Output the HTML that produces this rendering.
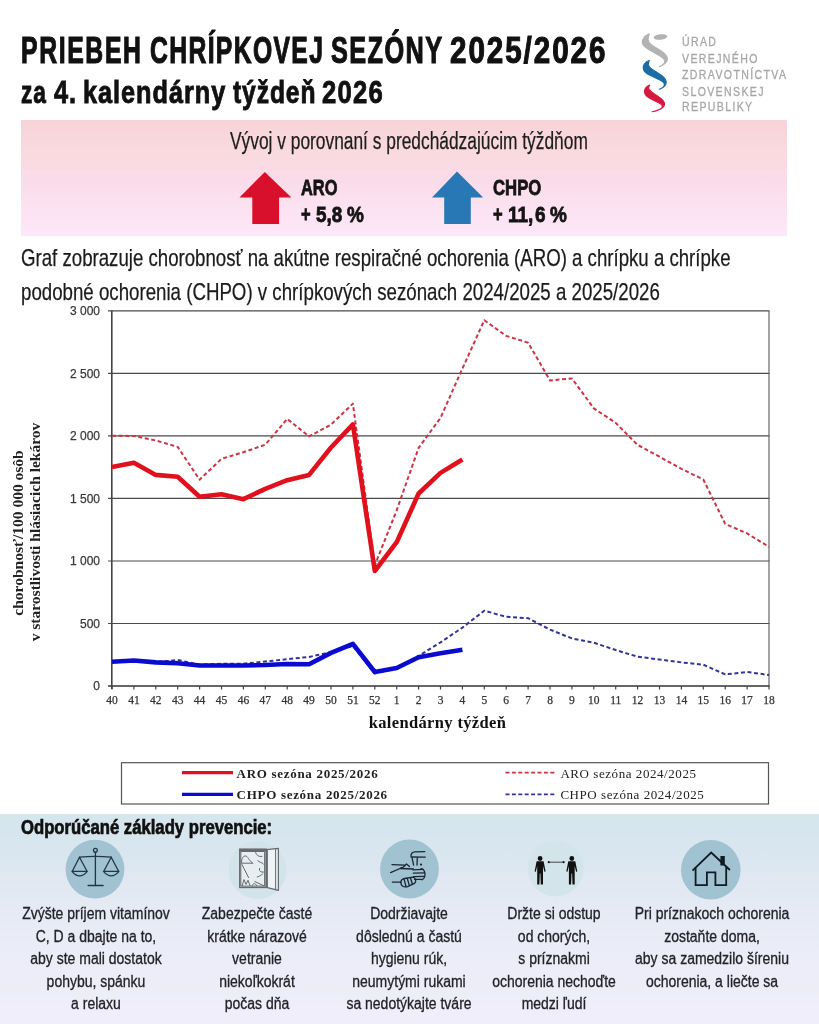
<!DOCTYPE html>
<html lang="sk">
<head>
<meta charset="utf-8">
<title>Priebeh chrípkovej sezóny 2025/2026</title>
<style>
html,body{margin:0;padding:0}
body{width:819px;height:1024px;position:relative;overflow:hidden;background:#fff;font-family:"Liberation Sans",Arial,sans-serif;color:#161616}
.t{position:absolute;white-space:nowrap;transform-origin:0 0;margin:0}
.c{position:absolute;white-space:nowrap;transform-origin:50% 0;text-align:center;margin:0}
.tw{top:32.9px;font-size:36.2px;line-height:36.2px;font-weight:bold;color:#111;-webkit-text-stroke:1.1px #111}
.sw{top:77.1px;font-size:31.5px;line-height:31.5px;font-weight:bold;color:#111;-webkit-text-stroke:0.9px #111}
.logo{position:absolute;left:681.5px;font-size:12.8px;line-height:12px;letter-spacing:1.65px;color:#a6a6a6;white-space:nowrap;transform:scaleX(0.825);transform-origin:0 0;-webkit-text-stroke:0.3px #a6a6a6}
#pink{position:absolute;left:20.5px;top:120px;width:766px;height:115.5px;background:linear-gradient(#f7d3d9 0%,#f9dadf 28%,#fadbe8 50%,#fce2f1 75%,#fde7f9 100%)}
#vyv{left:229.5px;top:130.2px;font-size:23px;line-height:23px;transform:scaleX(0.7545);color:#1d1d1d;-webkit-text-stroke:0.25px #1d1d1d}
.big{font-size:22px;line-height:22px;font-weight:bold;color:#141414;-webkit-text-stroke:0.8px #141414}
.par{font-size:23.8px;line-height:23.8px;color:#1b1b1b;-webkit-text-stroke:0.25px #1b1b1b}
#chart{position:absolute;left:0;top:0}
.yl{font-family:"Liberation Sans",Arial,sans-serif;font-size:12px;fill:#3a3a3a;text-anchor:end;stroke:#3a3a3a;stroke-width:0.25px}
.xl{font-family:"Liberation Serif","Times New Roman",serif;font-size:11.5px;fill:#333;text-anchor:middle;stroke:#333;stroke-width:0.25px}
.xt{font-family:"Liberation Serif","Times New Roman",serif;font-size:16.5px;font-weight:bold;fill:#111;text-anchor:middle;letter-spacing:0.35px}
.yt{font-family:"Liberation Serif","Times New Roman",serif;font-size:15.5px;font-weight:bold;fill:#222;text-anchor:middle}
.lb{font-family:"Liberation Serif","Times New Roman",serif;font-size:13px;font-weight:bold;fill:#222;letter-spacing:0.7px}
.lr{font-family:"Liberation Serif","Times New Roman",serif;font-size:13px;fill:#222;letter-spacing:0.56px}
#bottom{position:absolute;left:0;top:814px;width:819px;height:210px;background:linear-gradient(#d5e6ed 0%,#d9e6ef 18%,#e1e8f2 32%,#e9ecf6 58%,#f0eefa 100%)}
#odp{left:20.67px;top:816.6px;font-size:20px;line-height:20px;font-weight:bold;transform:scaleX(0.8338);color:#111;-webkit-text-stroke:0.7px #111}
.col{position:absolute;top:903.2px;width:220px;margin-left:-110px;text-align:center;font-size:16px;line-height:22.5px;color:#222228;-webkit-text-stroke:0.3px #222228}
.col div{white-space:nowrap;transform:scaleX(0.874);transform-origin:50% 0}
</style>
</head>
<body>
<div class="t tw" style="left:21.43px;letter-spacing:2.4px;transform:scaleX(0.6842)">PRIEBEH</div>
<div class="t tw" style="left:150.12px;letter-spacing:2px;transform:scaleX(0.6828)">CHRÍPKOVEJ</div>
<div class="t tw" style="left:331.3px;letter-spacing:2px;transform:scaleX(0.6994)">SEZÓNY</div>
<div class="t tw" style="left:450.38px;letter-spacing:2.4px;transform:scaleX(0.8169)">2025/2026</div>
<div class="t sw" style="left:20.58px;letter-spacing:1.2px;transform:scaleX(0.7206)">za</div>
<div class="t sw" style="left:54.1px;letter-spacing:1.2px;transform:scaleX(0.8038)">4.</div>
<div class="t sw" style="left:83.49px;letter-spacing:1.2px;transform:scaleX(0.8029)">kalendárny</div>
<div class="t sw" style="left:233.2px;letter-spacing:1.2px;transform:scaleX(0.7798)">týždeň</div>
<div class="t sw" style="left:322.29px;letter-spacing:1.6px;transform:scaleX(0.8123)">2026</div>

<svg style="position:absolute;left:0;top:0" width="819" height="120" viewBox="0 0 819 120">
  <ellipse cx="660.5" cy="37" rx="6.9" ry="2.7" fill="#b3b3b3" transform="rotate(-6 660.5 37)"/>
  <path d="M649.2,33.9 C645.5,35.5 642.2,38.5 642.4,42.5 C642.6,46.5 648,49.5 654,52.5 C659.5,55.3 664.5,57.8 664.8,61 C665,63.5 662.5,65.5 659.4,66.6 C663.5,65 667.5,62 667.4,58.5 C667.2,54.5 661,50.5 655.5,47.5 C651,45 647.8,42.5 648,39.5 C648.1,37.5 648.5,35.5 649.2,33.9 Z" fill="#b3b3b3" stroke="#b3b3b3" stroke-width="1.3" stroke-linejoin="round"/>
  <path d="M649.2,60.6 C645.5,62 643,65 643.3,68.5 C643.6,72 647,74 651.5,76 C657,78.5 663,80.5 664.3,83.5 C665,86 662.5,88 659.4,89.2 C663.5,87.8 666.5,85 666.2,81.5 C665.8,77.5 660.5,74.5 656.5,72.1 C652,69.5 648.5,67 648.3,64.5 C648.2,63 648.6,61.7 649.2,60.6 Z" fill="#1c6ca7" stroke="#1c6ca7" stroke-width="1.2" stroke-linejoin="round"/>
  <path d="M649.7,85.1 C646,86.5 644.2,89.5 644.6,92.5 C645,96 648.5,98 653,100 C657.5,102 661.5,103.5 662.5,106 C663,108.5 657.5,111 652.1,111.7 C658,111 664.5,108 664.6,104 C664.7,100 659.5,97.5 655.5,94.7 C651.5,92 648.5,90 648.6,88 C648.7,86.7 649.1,85.8 649.7,85.1 Z" fill="#d8173f" stroke="#d8173f" stroke-width="1.1" stroke-linejoin="round"/>
</svg>
<div class="logo" style="top:35.8px">ÚRAD</div>
<div class="logo" style="top:52.5px">VEREJNÉHO</div>
<div class="logo" style="top:69.1px">ZDRAVOTNÍCTVA</div>
<div class="logo" style="top:85.7px">SLOVENSKEJ</div>
<div class="logo" style="top:101.4px">REPUBLIKY</div>

<div id="pink"></div>
<div class="t" id="vyv">Vývoj v porovnaní s predchádzajúcim týždňom</div>
<svg style="position:absolute;left:0;top:160px" width="819" height="70" viewBox="0 160 819 70">
  <polygon points="264.8,171.9 291.4,197.5 279.1,197.5 279.1,224.1 252.3,224.1 252.3,197.5 239.5,197.5" fill="#d8102b"/>
  <polygon points="457,171.4 483.2,197.5 470.8,197.5 470.8,224 444.2,224 444.2,197.5 432,197.5" fill="#2878b6"/>
</svg>
<div class="t big" id="aro" style="left:300.6px;top:177.2px;transform:scaleX(0.745)">ARO</div>
<div class="t big" id="ap1" style="left:300.6px;top:203.6px;transform:scaleX(0.75)">+</div>
<div class="t big" id="ap2" style="left:316px;top:203.6px;transform:scaleX(0.86)">5,8</div>
<div class="t big" id="ap3" style="left:347px;top:203.6px;transform:scaleX(0.86)">%</div>
<div class="t big" id="chpo" style="left:493px;top:177.2px;transform:scaleX(0.76)">CHPO</div>
<div class="t big" id="cp1" style="left:493px;top:203.6px;transform:scaleX(0.75)">+</div>
<div class="t big" id="cp2" style="left:507.5px;top:203.6px;transform:scaleX(0.86)">11,</div>
<div class="t big" id="cp2b" style="left:534.5px;top:203.6px;transform:scaleX(0.86)">6</div>
<div class="t big" id="cp3" style="left:549.7px;top:203.6px;transform:scaleX(0.86)">%</div>

<div class="t par" id="p1" style="top:246.45px;left:20.92px;transform:scaleX(0.7834)">Graf zobrazuje chorobnosť na akútne respiračné ochorenia (ARO) a chrípku a chrípke</div>
<div class="t par" id="p2" style="top:279.75px;left:21.21px;transform:scaleX(0.7852)">podobné ochorenia (CHPO) v chrípkových sezónach 2024/2025 a 2025/2026</div>

<svg id="chart" width="819" height="814" viewBox="0 0 819 814">
<line x1="108" y1="623.5" x2="769.5" y2="623.5" stroke="#4a4a4a" stroke-width="1.2"/>
<line x1="108" y1="561.0" x2="769.5" y2="561.0" stroke="#4a4a4a" stroke-width="1.2"/>
<line x1="108" y1="498.4" x2="769.5" y2="498.4" stroke="#4a4a4a" stroke-width="1.2"/>
<line x1="108" y1="435.9" x2="769.5" y2="435.9" stroke="#4a4a4a" stroke-width="1.2"/>
<line x1="108" y1="373.4" x2="769.5" y2="373.4" stroke="#4a4a4a" stroke-width="1.2"/>
<line x1="108" y1="310.9" x2="769.5" y2="310.9" stroke="#4a4a4a" stroke-width="1.2"/>
<line x1="769" y1="310.9" x2="769" y2="686.0" stroke="#666" stroke-width="1.2"/>
<line x1="108" y1="686.0" x2="769.5" y2="686.0" stroke="#333" stroke-width="1.6"/>
<line x1="111.8" y1="310.4" x2="111.8" y2="689.0" stroke="#444" stroke-width="1.6"/>
<line x1="112.0" y1="686.0" x2="112.0" y2="689.5" stroke="#444" stroke-width="1.2"/>
<line x1="133.9" y1="686.0" x2="133.9" y2="689.5" stroke="#444" stroke-width="1.2"/>
<line x1="155.8" y1="686.0" x2="155.8" y2="689.5" stroke="#444" stroke-width="1.2"/>
<line x1="177.7" y1="686.0" x2="177.7" y2="689.5" stroke="#444" stroke-width="1.2"/>
<line x1="199.6" y1="686.0" x2="199.6" y2="689.5" stroke="#444" stroke-width="1.2"/>
<line x1="221.5" y1="686.0" x2="221.5" y2="689.5" stroke="#444" stroke-width="1.2"/>
<line x1="243.4" y1="686.0" x2="243.4" y2="689.5" stroke="#444" stroke-width="1.2"/>
<line x1="265.3" y1="686.0" x2="265.3" y2="689.5" stroke="#444" stroke-width="1.2"/>
<line x1="287.2" y1="686.0" x2="287.2" y2="689.5" stroke="#444" stroke-width="1.2"/>
<line x1="309.1" y1="686.0" x2="309.1" y2="689.5" stroke="#444" stroke-width="1.2"/>
<line x1="331.0" y1="686.0" x2="331.0" y2="689.5" stroke="#444" stroke-width="1.2"/>
<line x1="352.9" y1="686.0" x2="352.9" y2="689.5" stroke="#444" stroke-width="1.2"/>
<line x1="374.8" y1="686.0" x2="374.8" y2="689.5" stroke="#444" stroke-width="1.2"/>
<line x1="396.7" y1="686.0" x2="396.7" y2="689.5" stroke="#444" stroke-width="1.2"/>
<line x1="418.6" y1="686.0" x2="418.6" y2="689.5" stroke="#444" stroke-width="1.2"/>
<line x1="440.5" y1="686.0" x2="440.5" y2="689.5" stroke="#444" stroke-width="1.2"/>
<line x1="462.4" y1="686.0" x2="462.4" y2="689.5" stroke="#444" stroke-width="1.2"/>
<line x1="484.3" y1="686.0" x2="484.3" y2="689.5" stroke="#444" stroke-width="1.2"/>
<line x1="506.2" y1="686.0" x2="506.2" y2="689.5" stroke="#444" stroke-width="1.2"/>
<line x1="528.1" y1="686.0" x2="528.1" y2="689.5" stroke="#444" stroke-width="1.2"/>
<line x1="550.0" y1="686.0" x2="550.0" y2="689.5" stroke="#444" stroke-width="1.2"/>
<line x1="571.9" y1="686.0" x2="571.9" y2="689.5" stroke="#444" stroke-width="1.2"/>
<line x1="593.8" y1="686.0" x2="593.8" y2="689.5" stroke="#444" stroke-width="1.2"/>
<line x1="615.7" y1="686.0" x2="615.7" y2="689.5" stroke="#444" stroke-width="1.2"/>
<line x1="637.6" y1="686.0" x2="637.6" y2="689.5" stroke="#444" stroke-width="1.2"/>
<line x1="659.5" y1="686.0" x2="659.5" y2="689.5" stroke="#444" stroke-width="1.2"/>
<line x1="681.4" y1="686.0" x2="681.4" y2="689.5" stroke="#444" stroke-width="1.2"/>
<line x1="703.3" y1="686.0" x2="703.3" y2="689.5" stroke="#444" stroke-width="1.2"/>
<line x1="725.2" y1="686.0" x2="725.2" y2="689.5" stroke="#444" stroke-width="1.2"/>
<line x1="747.1" y1="686.0" x2="747.1" y2="689.5" stroke="#444" stroke-width="1.2"/>
<line x1="769.0" y1="686.0" x2="769.0" y2="689.5" stroke="#444" stroke-width="1.2"/>
<text x="100" y="690.3" class="yl">0</text>
<text x="100" y="627.8" class="yl">500</text>
<text x="100" y="565.2" class="yl">1 000</text>
<text x="100" y="502.7" class="yl">1 500</text>
<text x="100" y="440.2" class="yl">2 000</text>
<text x="100" y="377.7" class="yl">2 500</text>
<text x="100" y="315.2" class="yl">3 000</text>
<text x="112.0" y="704" class="xl">40</text>
<text x="133.9" y="704" class="xl">41</text>
<text x="155.8" y="704" class="xl">42</text>
<text x="177.7" y="704" class="xl">43</text>
<text x="199.6" y="704" class="xl">44</text>
<text x="221.5" y="704" class="xl">45</text>
<text x="243.4" y="704" class="xl">46</text>
<text x="265.3" y="704" class="xl">47</text>
<text x="287.2" y="704" class="xl">48</text>
<text x="309.1" y="704" class="xl">49</text>
<text x="331.0" y="704" class="xl">50</text>
<text x="352.9" y="704" class="xl">51</text>
<text x="374.8" y="704" class="xl">52</text>
<text x="396.7" y="704" class="xl">1</text>
<text x="418.6" y="704" class="xl">2</text>
<text x="440.5" y="704" class="xl">3</text>
<text x="462.4" y="704" class="xl">4</text>
<text x="484.3" y="704" class="xl">5</text>
<text x="506.2" y="704" class="xl">6</text>
<text x="528.1" y="704" class="xl">7</text>
<text x="550.0" y="704" class="xl">8</text>
<text x="571.9" y="704" class="xl">9</text>
<text x="593.8" y="704" class="xl">10</text>
<text x="615.7" y="704" class="xl">11</text>
<text x="637.6" y="704" class="xl">12</text>
<text x="659.5" y="704" class="xl">13</text>
<text x="681.4" y="704" class="xl">14</text>
<text x="703.3" y="704" class="xl">15</text>
<text x="725.2" y="704" class="xl">16</text>
<text x="747.1" y="704" class="xl">17</text>
<text x="769.0" y="704" class="xl">18</text>
<polyline points="112.0,435.8 133.9,435.9 155.8,440.5 177.7,446.9 199.6,479.7 221.5,458.8 243.4,452.2 265.3,444.7 287.2,418.9 309.1,436.4 331.0,424.6 352.9,403.6 374.8,565.3 396.7,510.3 418.6,447.9 440.5,417.9 462.4,368.6 484.3,320.2 506.2,335.9 528.1,342.7 550.0,380.4 571.9,378.4 593.8,408.3 615.7,422.9 637.6,444.9 659.5,456.7 681.4,468.9 703.3,479.5 725.2,523.9 747.1,533.4 769.0,546.9" fill="none" stroke="#cc3344" stroke-width="2" stroke-dasharray="4 2.6" stroke-linejoin="round"/>
<polyline points="112.0,661.7 133.9,660.2 155.8,662.2 177.7,660.0 199.6,664.7 221.5,663.7 243.4,663.7 265.3,661.5 287.2,659.2 309.1,656.9 331.0,652.2 352.9,646.0 374.8,673.5 396.7,668.0 418.6,655.9 440.5,642.4 462.4,627.6 484.3,610.7 506.2,616.8 528.1,618.2 550.0,629.6 571.9,638.4 593.8,642.7 615.7,650.0 637.6,656.7 659.5,659.5 681.4,662.4 703.3,664.7 725.2,674.4 747.1,672.0 769.0,675.0" fill="none" stroke="#333399" stroke-width="2" stroke-dasharray="4 2.6" stroke-linejoin="round"/>
<polyline points="112.0,466.9 133.9,462.8 155.8,474.9 177.7,476.7 199.6,496.7 221.5,494.2 243.4,499.2 265.3,488.8 287.2,480.2 309.1,474.9 331.0,447.5 352.9,424.4 374.8,571.0 396.7,542.2 418.6,493.5 440.5,472.9 462.4,459.5" fill="none" stroke="#e0101c" stroke-width="4.6" stroke-linejoin="round"/>
<polyline points="112.0,661.7 133.9,660.5 155.8,662.4 177.7,663.2 199.6,665.5 221.5,665.5 243.4,665.5 265.3,665.0 287.2,664.0 309.1,664.2 331.0,652.9 352.9,643.9 374.8,672.0 396.7,668.0 418.6,657.2 440.5,653.2 462.4,649.7" fill="none" stroke="#0a0ad0" stroke-width="4.6" stroke-linejoin="round"/>
<text x="437.5" y="728.4" class="xt">kalendárny týždeň</text>
<text transform="translate(22.5,533) rotate(-90)" class="yt">chorobnosť/100 000 osôb</text>
<text transform="translate(39.5,532) rotate(-90)" class="yt">v starostlivosti hlásiacich lekárov</text>
<rect x="121.5" y="762.7" width="647" height="41.3" fill="#fff" stroke="#555" stroke-width="1.2"/>
<line x1="182" y1="772.6" x2="233" y2="772.6" stroke="#e0101c" stroke-width="3.4"/>
<line x1="182" y1="794.4" x2="233" y2="794.4" stroke="#0a0ad0" stroke-width="3.4"/>
<text x="236.6" y="777.6" class="lb">ARO sezóna 2025/2026</text>
<text x="236.6" y="798.6" class="lb">CHPO sezóna 2025/2026</text>
<line x1="505.5" y1="772.6" x2="555" y2="772.6" stroke="#cc3344" stroke-width="1.6" stroke-dasharray="4 2.4"/>
<line x1="505.5" y1="794.4" x2="555" y2="794.4" stroke="#333399" stroke-width="1.6" stroke-dasharray="4 2.4"/>
<text x="560.4" y="777.6" class="lr">ARO sezóna 2024/2025</text>
<text x="560.4" y="798.6" class="lr">CHPO sezóna 2024/2025</text>
</svg>

<div id="bottom"></div>
<div class="t" id="odp">Odporúčané základy prevencie:</div>

<svg style="position:absolute;left:0;top:836px" width="819" height="68" viewBox="0 836 819 68">
  <!-- scales -->
  <circle cx="95" cy="869.2" r="29.4" fill="#a0c2d1"/>
  <g fill="none" stroke="#22364a" stroke-width="1.3" stroke-linecap="round" stroke-linejoin="round">
    <circle cx="95.4" cy="850.3" r="1.9"/>
    <line x1="95.4" y1="852.2" x2="95.4" y2="885.5"/>
    <path d="M79.5,857.2 Q95.4,855.6 111.2,857.2"/>
    <line x1="88.2" y1="885.5" x2="103" y2="885.5" stroke-width="1.6"/>
    <path d="M79.5,857.2 L72.3,871.3 M79.5,857.2 L87,871.3 M72,871.3 H87.3 M72,871.3 Q79.6,880.5 87.3,871.3"/>
    <path d="M111.2,857.2 L103.8,871.3 M111.2,857.2 L118.6,871.3 M103.5,871.3 H118.9 M103.5,871.3 Q111.2,880.5 118.9,871.3"/>
  </g>
  <!-- window -->
  <circle cx="257.5" cy="870" r="29" fill="#d3e3ea"/>
  <rect x="239.7" y="849.1" width="26.4" height="38.4" fill="#e6eef1" stroke="#646a6e" stroke-width="1.3"/>
  <rect x="239.7" y="849.1" width="26.4" height="2.4" fill="#646a6e"/>
  <path d="M266.4,849.6 L278.4,848.4 L278.4,890.4 L266.4,887.4 Z" fill="#edf2f4" stroke="#646a6e" stroke-width="1.2" stroke-linejoin="round"/>
  <g fill="none" stroke="#646a6e" stroke-width="1" stroke-linecap="round" stroke-linejoin="round">
    <rect x="241.2" y="851.5" width="23.4" height="34.6"/>
    <line x1="275.6" y1="849" x2="275.6" y2="889.8"/>
    <line x1="267.4" y1="849.6" x2="267.4" y2="887.3"/>
    <path d="M241.4,863.2 L252.6,863.2 M241.6,862.6 C241.4,858.2 243.4,855.6 245.8,856 C247.4,856.4 248.2,858.2 249.2,859.6 L252.6,863.2"/>
    <path d="M242,864.6 L248.6,877.6"/>
    <path d="M255.4,851.6 C256,855.2 258.6,857 262,856.4 M257.8,860.8 C259.6,862.6 261.6,862 263.4,864 M259.6,868.4 C258.8,871 260.6,872.6 264.2,872 M257.2,877 C259.5,876.5 261,875 262.6,874 M254.8,881.6 L264.4,886"/>
    <path d="M242.2,885.6 L244,879.6 L246,884.4 L248,880.2 L250,885.6 M252.2,885.8 C252.8,883 255.4,882.6 256.6,885.6"/>
  </g>
  <!-- hand washing -->
  <circle cx="409.5" cy="869" r="29.4" fill="#a0c2d1"/>
  <g fill="none" stroke="#1b2733" stroke-width="1.3" stroke-linecap="round" stroke-linejoin="round">
    <path d="M411,856.6 C410.6,853.6 412.3,852.1 415,851.9 L424.8,851.6"/>
    <path d="M411.4,857 L425.3,857.2"/>
    <path d="M412.1,857.8 L413.6,865.2 M417.3,857.8 L417,865"/>
    <path d="M392,864.6 L405,865.2 M390.6,872.6 L403.4,867 L406.5,864 L409.5,866.5 M400,868.5 L413.5,869"/>
    <path d="M412.8,869.8 L423.2,869.4 M413.3,873.2 L424.6,872.9 M413.6,876.6 L424.2,876.4 M414.5,879.4 L421.5,879.3"/>
    <path d="M421,868.6 C425.6,869.2 426.6,877.8 421.8,879.8"/>
    <path d="M392.4,882.2 L400.9,882.2"/>
    <path d="M401,881 C400.2,885.6 403.5,887.6 407.5,886.6 L414.5,883.4 C416.6,881.6 416,878 413,877.2 L404.5,878.5 C402.5,879 401.3,879.8 401,881 Z"/>
    <path d="M404,878.8 L406,886.5 M407.2,878.3 L409.4,885.6 M410.4,877.8 L412.4,884.3"/>
  </g>
  <circle cx="421" cy="864.6" r="1.1" fill="#1b2733"/>
  <!-- people -->
  <circle cx="555.6" cy="868.4" r="28" fill="#d4e4eb"/>
  <g fill="#111">
    <circle cx="540.1" cy="858.5" r="2.4"/>
    <circle cx="571.8" cy="858.5" r="2.4"/>
    <path d="M536.6,861.3 H543.6 L545.6,871.5 L544.4,871.8 L543,866 L543,884.5 L540.8,884.5 L540.4,873.5 L539.8,873.5 L539.4,884.5 L537.2,884.5 L537.2,866 L535.8,871.8 L534.6,871.5 Z"/>
    <path d="M568.3,861.3 H575.3 L577.3,871.5 L576.1,871.8 L574.7,866 L574.7,884.5 L572.5,884.5 L572.1,873.5 L571.5,873.5 L571.1,884.5 L568.9,884.5 L568.9,866 L567.5,871.8 L566.3,871.5 Z"/>
    <circle cx="548.8" cy="862.2" r="1.1"/>
    <circle cx="563.6" cy="862.2" r="1.1"/>
  </g>
  <line x1="548.8" y1="862.2" x2="563.6" y2="862.2" stroke="#333" stroke-width="0.9"/>
  <!-- house -->
  <circle cx="710.8" cy="869.8" r="29.8" fill="#a0c2d1"/>
  <rect x="720.4" y="856" width="4.4" height="9.5" fill="#111b24"/>
  <g fill="none" stroke="#111b24" stroke-width="1.8" stroke-linejoin="miter" stroke-linecap="butt">
    <polyline points="692.5,870.6 711.2,852.6 729.9,870"/>
    <polyline points="695.6,867.5 695.6,885.2 706.9,885.2 706.9,872.3 715.4,872.3 715.4,885.2 726.2,885.2 726.2,867"/>
  </g>
</svg>

<div class="col" style="left:95.8px"><div>Zvýšte príjem vitamínov</div><div>C, D a dbajte na to,</div><div>aby ste mali dostatok</div><div>pohybu, spánku</div><div>a relaxu</div></div>
<div class="col" style="left:257.2px"><div>Zabezpečte časté</div><div>krátke nárazové</div><div>vetranie</div><div>niekoľkokrát</div><div>počas dňa</div></div>
<div class="col" style="left:409.4px"><div>Dodržiavajte</div><div>dôslednú a častú</div><div>hygienu rúk,</div><div>neumytými rukami</div><div>sa nedotýkajte tváre</div></div>
<div class="col" style="left:553.9px"><div>Držte si odstup</div><div>od chorých,</div><div>s príznakmi</div><div>ochorenia nechoďte</div><div>medzi ľudí</div></div>
<div class="col" style="left:711.8px"><div>Pri príznakoch ochorenia</div><div>zostaňte doma,</div><div>aby sa zamedzilo šíreniu</div><div>ochorenia, a liečte sa</div></div>
</body>
</html>
